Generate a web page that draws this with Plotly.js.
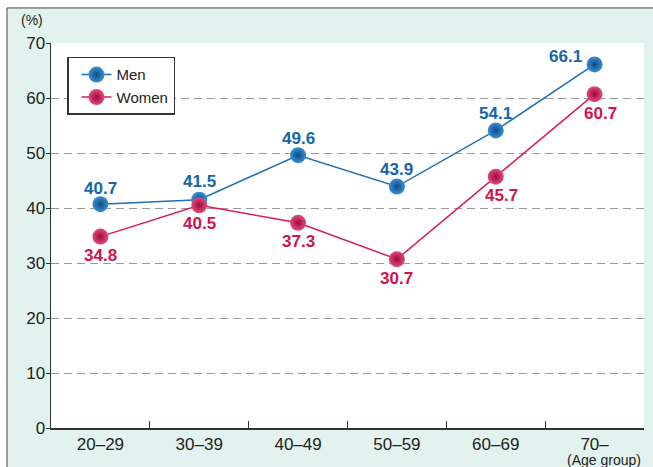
<!DOCTYPE html>
<html>
<head>
<meta charset="utf-8">
<script src="https://cdn.plot.ly/plotly-3.0.1.min.js"></script>
<style>html,body{margin:0;padding:0;background:#fff;}#chart{width:653px;height:467px;}</style>
</head>
<body>
<div id="chart"></div>
<script>
var categories = ["20–29", "30–39", "40–49", "50–59", "60–69", "70–"];
var menValues = [40.7, 41.5, 49.6, 43.9, 54.1, 66.1];
var womenValues = [34.8, 40.5, 37.3, 30.7, 45.7, 60.7];
var yTicks = [0, 10, 20, 30, 40, 50, 60, 70];

// label offsets in pixels (style only)
var menShiftX = [0, 0, 0, 0, 0, -29];
var menShiftY = [16, 18, 17, 17, 17, 8];
var womenShiftX = [0, 0, 0, 0, 6, 6];
var womenShiftY = [-19, -18, -19, -19, -19, -19];

var font = "Liberation Sans, Arial, Helvetica, sans-serif";
var menColor = "#1f70b0", womenColor = "#d81b5a";
var menText = "#1466a8", womenText = "#d0134f";

var traces = [
  {
    name: "Men", x: categories, y: menValues, type: "scatter", mode: "lines+markers",
    line: {color: menColor, width: 1.5},
    marker: {size: 16, color: "#3a8fd2", gradient: {type: "radial", color: "#0c4b86"}, line: {width: 0}},
    cliponaxis: false
  },
  {
    name: "Women", x: categories, y: womenValues, type: "scatter", mode: "lines+markers",
    line: {color: womenColor, width: 1.5},
    marker: {size: 16, color: "#e44a7a", gradient: {type: "radial", color: "#9a0b38"}, line: {width: 0}},
    cliponaxis: false
  }
];

var annotations = [
  {text: "(%)", xref: "paper", yref: "paper", x: -0.032, y: 1.06, xanchor: "center", yanchor: "middle",
   showarrow: false, font: {family: font, size: 14, color: "#222"}},
  {text: "(Age group)", xref: "paper", yref: "paper", x: 0.932, y: -0.083, xanchor: "center", yanchor: "middle",
   showarrow: false, font: {family: font, size: 14, color: "#222"}}
];
categories.forEach(function(c, i) {
  annotations.push({text: menValues[i].toFixed(1), x: c, y: menValues[i], xref: "x", yref: "y",
    xshift: menShiftX[i], yshift: menShiftY[i], xanchor: "center", yanchor: "middle", showarrow: false,
    font: {family: font, size: 17, color: menText, weight: "bold"}});
  annotations.push({text: womenValues[i].toFixed(1), x: c, y: womenValues[i], xref: "x", yref: "y",
    xshift: womenShiftX[i], yshift: womenShiftY[i], xanchor: "center", yanchor: "middle", showarrow: false,
    font: {family: font, size: 17, color: womenText, weight: "bold"}});
});

var layout = {
  width: 653, height: 467,
  margin: {l: 51, r: 9, t: 43, b: 39},
  paper_bgcolor: "#ffffff",
  plot_bgcolor: "#ffffff",
  font: {family: font, color: "#222"},
  showlegend: true,
  legend: {
    x: 0.027, y: 0.964, xanchor: "left", yanchor: "top",
    bgcolor: "#ffffff", bordercolor: "#333", borderwidth: 1.5,
    font: {family: font, size: 15, color: "#222"},
    tracegroupgap: 0, indentation: 8
  },
  xaxis: {
    type: "category", range: [-0.5, 5.5],
    tickson: "boundaries", ticks: "inside", ticklen: 7, tickcolor: "#333", tickwidth: 1.2,
    showline: true, linecolor: "#333", linewidth: 1.5,
    showgrid: false, zeroline: false,
    tickfont: {family: font, size: 17, color: "#222"}
  },
  yaxis: {
    range: [0, 70], tickvals: yTicks, ticktext: yTicks.map(String),
    ticks: "outside", ticklen: 4, tickcolor: "#333", ticklabelstandoff: -3,
    showline: true, linecolor: "#333", linewidth: 1.5,
    showgrid: true, gridcolor: "#9a9a9a", gridwidth: 1, griddash: "8px,5px",
    zeroline: false,
    tickfont: {family: font, size: 17, color: "#222"}
  },
  shapes: [
    {type: "rect", xref: "paper", yref: "paper", x0: -0.0742, x1: 1.05, y0: -0.2, y1: 1.091,
     fillcolor: "#e2f2ee", line: {color: "#444", width: 1}, layer: "below"},
    {type: "rect", xref: "paper", yref: "paper", x0: 0, x1: 1, y0: 0, y1: 1,
     fillcolor: "#ffffff", line: {width: 0}, layer: "below"}
  ],
  annotations: annotations
};

Plotly.newPlot("chart", traces, layout, {displayModeBar: false, staticPlot: true});
</script>
</body>
</html>
